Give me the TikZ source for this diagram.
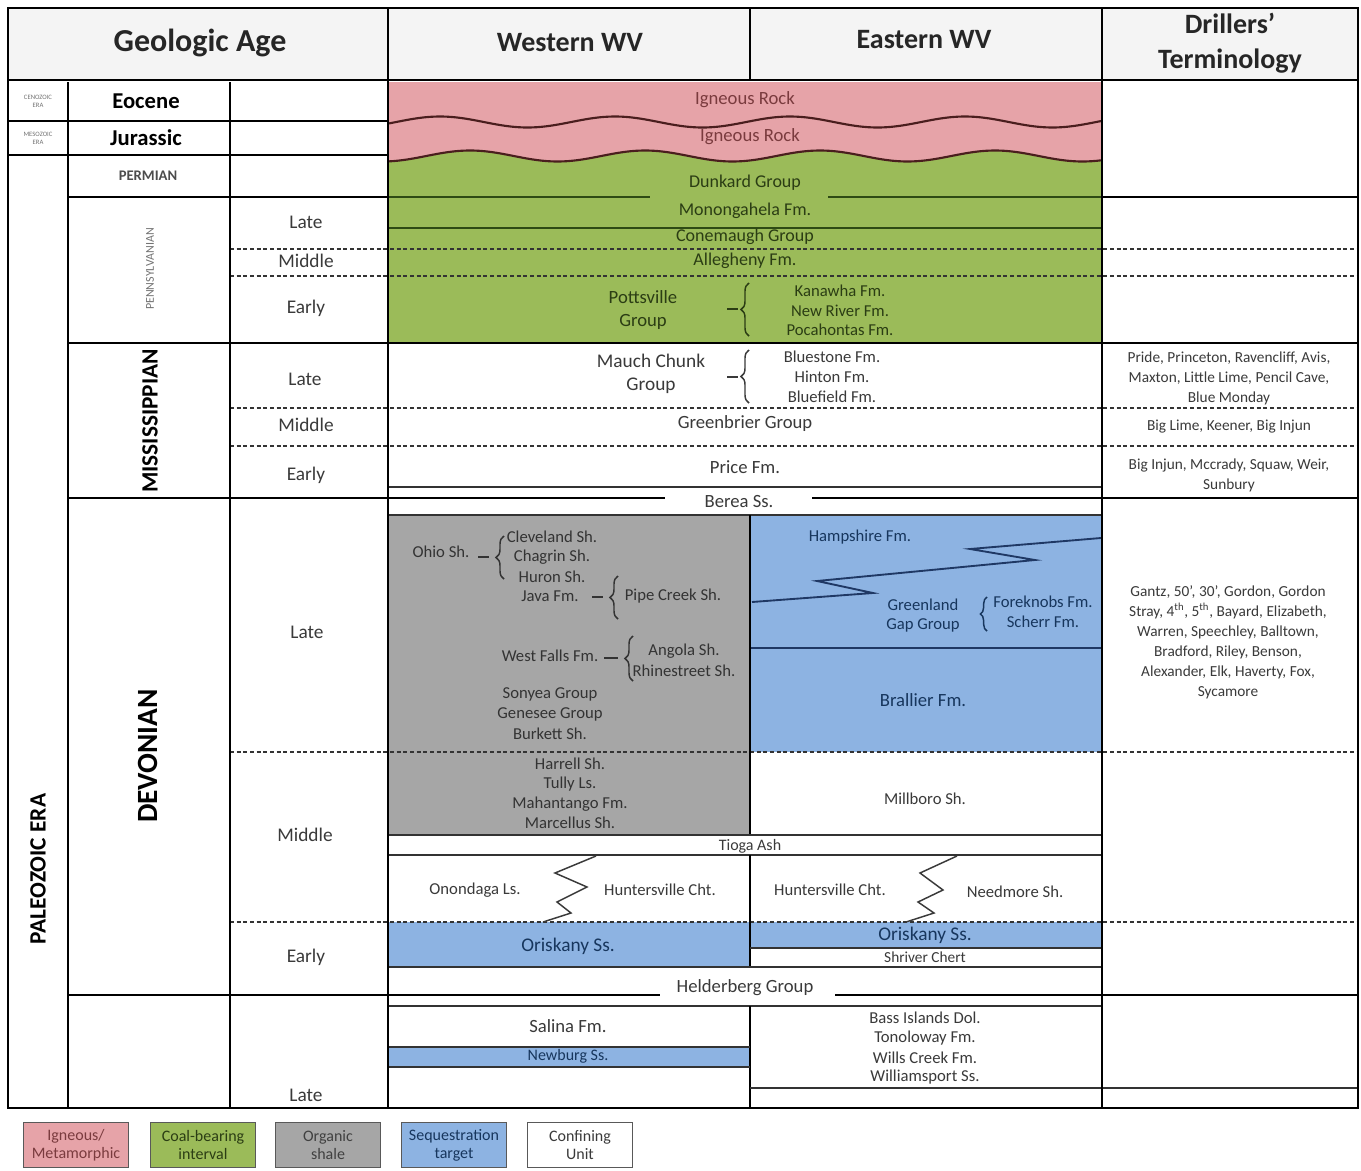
\documentclass[tikz,border=0pt]{standalone}
\usepackage{fontspec}
\setmainfont{Carlito}
\usetikzlibrary{decorations.pathreplacing}
\definecolor{pinkf}{HTML}{E6A3A8}
\definecolor{greenf}{HTML}{9BBB59}
\definecolor{grayf}{HTML}{A6A6A6}
\definecolor{bluef}{HTML}{8DB3E2}
\definecolor{hdrf}{HTML}{F4F4F4}
\definecolor{txtc}{HTML}{3A3A3A}
\definecolor{wavec}{HTML}{4A1E1E}
\definecolor{grnl}{HTML}{2E4A14}
\definecolor{navy}{HTML}{1F3864}
\definecolor{pinkt}{HTML}{7A3B3E}
\definecolor{greent}{HTML}{2B3D14}
\definecolor{bluet}{HTML}{17365D}
\begin{document}
\begin{tikzpicture}[x=0.75pt,y=-0.75pt,
 declare function={wa(\t)=122-5.5*cos(((\t-440)/175)*360); wb(\t)=156-5.5*cos(((\t-470)/175)*360);},
 tb/.style={line width=1.9pt, black},
 thn/.style={line width=0.9pt, black!80},
 dsh/.style={line width=0.8pt, dash pattern=on 3pt off 2pt, black!80},
 tx/.style={font=\fontsize{13.5}{15}\selectfont, text=txtc, inner sep=0pt},
 sm/.style={font=\fontsize{12.5}{14}\selectfont, text=txtc, inner sep=0pt},
 dr/.style={font=\fontsize{11.5}{15}\selectfont, text=txtc, align=center, inner sep=0pt},
 hd/.style={font=\bfseries\fontsize{21}{26}\selectfont, text=black!85, align=center, inner sep=0pt},
 ep/.style={font=\fontsize{14.5}{16}\selectfont, text=txtc, inner sep=0pt},
 brc/.style={decorate, decoration={brace, amplitude=6pt}, line width=1.1pt},
 leg/.style={draw=black!65, line width=1.2pt, minimum width=79pt, minimum height=34pt, align=center, font=\fontsize{12}{13.5}\selectfont, inner sep=0pt}
]
\useasboundingbox (0,0) rectangle (1361,1171);
% ---------- fills ----------
\fill[white] (0,0) rectangle (1361,1171);
\fill[hdrf] (8,8) rectangle (1358,80);
\fill[greenf] (389,140) rectangle (1101,343);
\fill[pinkf] (389,82) -- (1101,82) -- plot[domain=1101:389,samples=160] (\x,{wb(\x)}) -- cycle;
\fill[grayf] (389,515) rectangle (750,835);
\fill[bluef] (750,515) rectangle (1101,752);
\fill[bluef] (389,922) rectangle (750,967);
\fill[bluef] (750,922) rectangle (1101,948);
\fill[bluef] (389,1047) rectangle (750,1067);
% ---------- waves ----------
\draw[wavec, line width=1.6pt] plot[domain=389:1101,samples=160] (\x,{wa(\x)});
\draw[wavec, line width=1.6pt] plot[domain=389:1101,samples=160] (\x,{wb(\x)});
% ---------- inner lines ----------
\draw[grnl, line width=1.6pt] (389,197) -- (650,197) (828,197) -- (1101,197);
\draw[grnl, line width=1.2pt] (389,228) -- (1101,228);
\foreach \yy in {249,276,408,446,752,922} \draw[dsh] (230,\yy) -- (1358,\yy);
\draw[thn] (389,487) -- (1101,487);
\draw[line width=1.5pt] (389,498) -- (665,498) (812,498) -- (1101,498);
\draw[thn] (389,515) -- (1101,515);
\draw[navy, line width=1pt] (750,648) -- (1101,648);
\draw[line width=1.2pt] (750,515) -- (750,835);
\draw[thn] (389,835) -- (1101,835);
\draw[thn] (389,855) -- (1101,855);
\draw[line width=1.2pt] (750,855) -- (750,967);
\draw[thn] (750,948) -- (1101,948);
\draw[thn] (389,967) -- (1101,967);
\draw[line width=1.5pt] (389,995) -- (660,995) (835,995) -- (1101,995);
\draw[thn] (389,1006) -- (1101,1006);
\draw[line width=1.2pt] (750,1006) -- (750,1108);
\draw[thn] (389,1047) -- (750,1047);
\draw[thn] (389,1067) -- (750,1067);
\draw[thn] (750,1088) -- (1358,1088);
% zigzags
\draw[navy, line width=1.4pt] (752,602) -- (873,593) -- (817,581) -- (1035,560) -- (970,549) -- (1101,538);
\draw[txtc, line width=1.1pt] (596,856) -- (555,873) -- (587,887) -- (557,902) -- (571,913) -- (543,922);
\draw[txtc, line width=1.1pt] (957,856) -- (920,873) -- (943,890) -- (918,902) -- (934,913) -- (906,922);
% ---------- table lines ----------
\draw[tb] (8,8) rectangle (1358,1108);
\draw[tb] (8,80) -- (1358,80);
\draw[tb] (68,82) -- (68,1108);
\draw[tb] (230,82) -- (230,1108);
\draw[tb] (388,8) -- (388,1108);
\draw[tb] (750,8) -- (750,80);
\draw[tb] (1102,8) -- (1102,1108);
\draw[tb] (8,121) -- (388,121);
\draw[tb] (8,155) -- (388,155);
\draw[tb] (68,197) -- (388,197);
\draw[tb] (1102,197) -- (1358,197);
\draw[tb] (68,343) -- (1358,343);
\draw[tb] (68,498) -- (388,498);
\draw[tb] (1102,498) -- (1358,498);
\draw[tb] (68,995) -- (388,995);
\draw[tb] (1102,995) -- (1358,995);
% ---------- header ----------
\node[hd, font=\bfseries\fontsize{24}{28}\selectfont] (hga) at (200,43) {Geologic Age};
\node[hd] (hww) at (570,43) {Western WV};
\node[hd] (hew) at (924,40) {Eastern WV};
\node[hd] (hdt) at (1230,43) {Drillers’\\Terminology};
% ---------- left columns ----------
\node[font=\fontsize{5}{6}\selectfont, text=black!55, align=center, inner sep=0pt] (eraC) at (38,101) {CENOZOIC\\ERA};
\node[font=\fontsize{5}{6}\selectfont, text=black!55, align=center, inner sep=0pt] (eraM) at (38,138) {MESOZOIC\\ERA};
\node[font=\bfseries\fontsize{17.5}{19}\selectfont, rotate=90, inner sep=0pt] (eraP) at (38,869) {PALEOZOIC ERA};
\node[font=\bfseries\fontsize{17}{19}\selectfont, inner sep=0pt] (eoc) at (146,101) {Eocene};
\node[font=\bfseries\fontsize{17}{19}\selectfont, inner sep=0pt] (jur) at (146,138) {Jurassic};
\node[font=\bfseries\fontsize{11}{13}\selectfont, text=black!70, inner sep=0pt] (perm) at (148,176) {PERMIAN};
\node[font=\fontsize{9}{10}\selectfont, text=black!55, rotate=90, inner sep=0pt] (penn) at (150,269) {PENNSYLVANIAN};
\node[font=\bfseries\fontsize{17.5}{19}\selectfont, rotate=90, inner sep=0pt] (miss) at (150,421) {MISSISSIPPIAN};
\node[font=\bfseries\fontsize{22}{24}\selectfont, rotate=90, inner sep=0pt] (devo) at (148,756) {DEVONIAN};
\node[ep] (e1) at (306,222) {Late};
\node[ep] (e2) at (306,261) {Middle};
\node[ep] (e3) at (306,308) {Early};
\node[ep] (e4) at (305,379) {Late};
\node[ep] (e5) at (306,425) {Middle};
\node[ep] (e6) at (306,475) {Early};
\node[ep] (e7) at (307,632) {Late};
\node[ep] (e8) at (305,835) {Middle};
\node[ep] (e9) at (306,957) {Early};
\node[ep] (e10) at (306,1095) {Late};
% ---------- igneous ----------
\node[tx, text=pinkt, font=\fontsize{14}{16}\selectfont] (ig1) at (745,100) {Igneous Rock};
\node[tx, text=pinkt, font=\fontsize{14}{16}\selectfont] (ig2) at (750,137) {Igneous Rock};
% ---------- Pennsylvanian ----------
\node[tx, text=greent] (dunk) at (745,183) {Dunkard Group};
\node[tx, text=greent] (mono) at (745,211) {Monongahela Fm.};
\node[tx, text=greent] (cone) at (745,237) {Conemaugh Group};
\node[tx, text=greent] (alle) at (745,261) {Allegheny Fm.};
\node[tx, text=greent, font=\fontsize{14}{16}\selectfont] (pot1) at (643,297) {Pottsville};
\node[tx, text=greent, font=\fontsize{14}{16}\selectfont] (pot2) at (643,322) {Group};
\node[sm, text=greent] (kan) at (840,291) {Kanawha Fm.};
\node[sm, text=greent] (newr) at (840,311) {New River Fm.};
\node[sm, text=greent] (poca) at (840,330) {Pocahontas Fm.};
\coordinate (b1a) at (749,336); \coordinate (b1b) at (749,283);
\draw[brc, greent] (b1a) -- (b1b);
\coordinate (t1a) at (727,309); \coordinate (t1b) at (738,309);
\draw[greent, line width=1.1pt] (t1a) -- (t1b);
% ---------- Mississippian ----------
\node[tx, font=\fontsize{14.5}{16}\selectfont] (mc1) at (651,361) {Mauch Chunk};
\node[tx, font=\fontsize{14.5}{16}\selectfont] (mc2) at (651,386) {Group};
\node[sm] (blue) at (832,357) {Bluestone Fm.};
\node[sm] (hint) at (832,377) {Hinton Fm.};
\node[sm] (blfd) at (832,397) {Bluefield Fm.};
\coordinate (b2a) at (749,403); \coordinate (b2b) at (749,350);
\draw[brc, txtc] (b2a) -- (b2b);
\coordinate (t2a) at (727,377); \coordinate (t2b) at (738,377);
\draw[txtc, line width=1.1pt] (t2a) -- (t2b);
\node[tx, font=\fontsize{14}{16}\selectfont] (gb) at (745,424) {Greenbrier Group};
\node[tx, font=\fontsize{14}{16}\selectfont] (price) at (745,467) {Price Fm.};
\node[tx, font=\fontsize{14}{16}\selectfont] (berea) at (739,502) {Berea Ss.};
% ---------- Devonian west (organic shale) ----------
\node[sm, text=black!80] (ohio) at (441,552) {Ohio Sh.};
\coordinate (b3a) at (504,579); \coordinate (b3b) at (504,536);
\draw[brc, black!80] (b3a) -- (b3b);
\coordinate (t3a) at (478,557); \coordinate (t3b) at (489,557);
\draw[black!80, line width=1.1pt] (t3a) -- (t3b);
\node[sm, text=black!80] (clev) at (552,537) {Cleveland Sh.};
\node[sm, text=black!80] (chag) at (552,557) {Chagrin Sh.};
\node[sm, text=black!80] (huro) at (552,577) {Huron Sh.};
\node[sm, text=black!80] (java) at (550,596) {Java Fm.};
\coordinate (b4a) at (618,619); \coordinate (b4b) at (618,576);
\draw[brc, black!80] (b4a) -- (b4b);
\coordinate (t4a) at (592,597); \coordinate (t4b) at (603,597);
\draw[black!80, line width=1.1pt] (t4a) -- (t4b);
\node[sm, text=black!80] (pipe) at (673,596) {Pipe Creek Sh.};
\node[sm, text=black!80] (wfal) at (550,656) {West Falls Fm.};
\coordinate (b5a) at (633,681); \coordinate (b5b) at (633,636);
\draw[brc, black!80] (b5a) -- (b5b);
\coordinate (t5a) at (604,658); \coordinate (t5b) at (618,658);
\draw[black!80, line width=1.1pt] (t5a) -- (t5b);
\node[sm, text=black!80] (ango) at (684,651) {Angola Sh.};
\node[sm, text=black!80] (rhin) at (684,671) {Rhinestreet Sh.};
\node[sm, text=black!80] (sony) at (550,694) {Sonyea Group};
\node[sm, text=black!80] (gene) at (550,714) {Genesee Group};
\node[sm, text=black!80] (burk) at (550,734) {Burkett Sh.};
\node[sm, text=black!80] (harr) at (570,764) {Harrell Sh.};
\node[sm, text=black!80] (tull) at (570,784) {Tully Ls.};
\node[sm, text=black!80] (maha) at (570,804) {Mahantango Fm.};
\node[sm, text=black!80] (marc) at (570,823) {Marcellus Sh.};
% ---------- Devonian east ----------
\node[sm, text=bluet] (hamp) at (860,537) {Hampshire Fm.};
\node[sm, text=bluet] (gg1) at (923,605) {Greenland};
\node[sm, text=bluet] (gg2) at (923,625) {Gap Group};
\coordinate (b6a) at (987,631); \coordinate (b6b) at (987,597);
\draw[brc, bluet, decoration={brace, amplitude=5pt}] (b6a) -- (b6b);
\node[sm, text=bluet] (fkn) at (1043,602) {Foreknobs Fm.};
\node[sm, text=bluet] (sch) at (1043,622) {Scherr Fm.};
\node[tx, text=bluet, font=\fontsize{14}{16}\selectfont] (bral) at (923,700) {Brallier Fm.};
\node[sm] (mill) at (925,799) {Millboro Sh.};
\node[sm, font=\fontsize{12}{14}\selectfont] (tiog) at (750,846) {Tioga Ash};
\node[sm] (onon) at (475,890) {Onondaga Ls.};
\node[sm] (hun1) at (660,890) {Huntersville Cht.};
\node[sm] (hun2) at (830,890) {Huntersville Cht.};
\node[sm] (need) at (1015,892) {Needmore Sh.};
\node[tx, text=bluet, font=\fontsize{14.5}{16}\selectfont] (oriw) at (568,946) {Oriskany Ss.};
\node[tx, text=bluet, font=\fontsize{14.5}{16}\selectfont] (orie) at (925,935) {Oriskany Ss.};
\node[sm, font=\fontsize{11.5}{13}\selectfont] (shri) at (925,957) {Shriver Chert};
\node[tx, font=\fontsize{14}{16}\selectfont] (held) at (745,988) {Helderberg Group};
% ---------- Silurian ----------
\node[tx, font=\fontsize{14}{16}\selectfont] (sali) at (568,1026) {Salina Fm.};
\node[sm, text=bluet, font=\fontsize{12}{14}\selectfont] (newb) at (568,1056) {Newburg Ss.};
\node[sm] (bass) at (925,1018) {Bass Islands Dol.};
\node[sm] (tono) at (925,1038) {Tonoloway Fm.};
\node[sm] (wcre) at (925,1058) {Wills Creek Fm.};
\node[sm] (wmsp) at (925,1077) {Williamsport Ss.};
% ---------- drillers ----------
\node[dr] (d1) at (1229,378) {Pride, Princeton, Ravencliff, Avis,\\Maxton, Little Lime, Pencil Cave,\\Blue Monday};
\node[dr] (d2) at (1229,427) {Big Lime, Keener, Big Injun};
\node[dr] (d3) at (1229,475) {Big Injun, Mccrady, Squaw, Weir,\\Sunbury};
\node[dr] (d4) at (1228,642) {Gantz, 50’, 30’, Gordon, Gordon\\Stray, 4\textsuperscript{th}, 5\textsuperscript{th}, Bayard, Elizabeth,\\Warren, Speechley, Balltown,\\Bradford, Riley, Benson,\\Alexander, Elk, Haverty, Fox,\\Sycamore};
% ---------- legend ----------
\node[leg, fill=pinkf, text=pinkt] (lg1) at (76,1145) {Igneous/\\Metamorphic};
\node[leg, fill=greenf, text=greent] (lg2) at (203,1145) {Coal-bearing\\interval};
\node[leg, fill=grayf, text=black!75] (lg3) at (328,1145) {Organic\\shale};
\node[leg, fill=bluef, text=bluet] (lg4) at (454,1145) {Sequestration\\target};
\node[leg, fill=white, text=txtc] (lg5) at (580,1145) {Confining\\Unit};
\end{tikzpicture}
\end{document}
